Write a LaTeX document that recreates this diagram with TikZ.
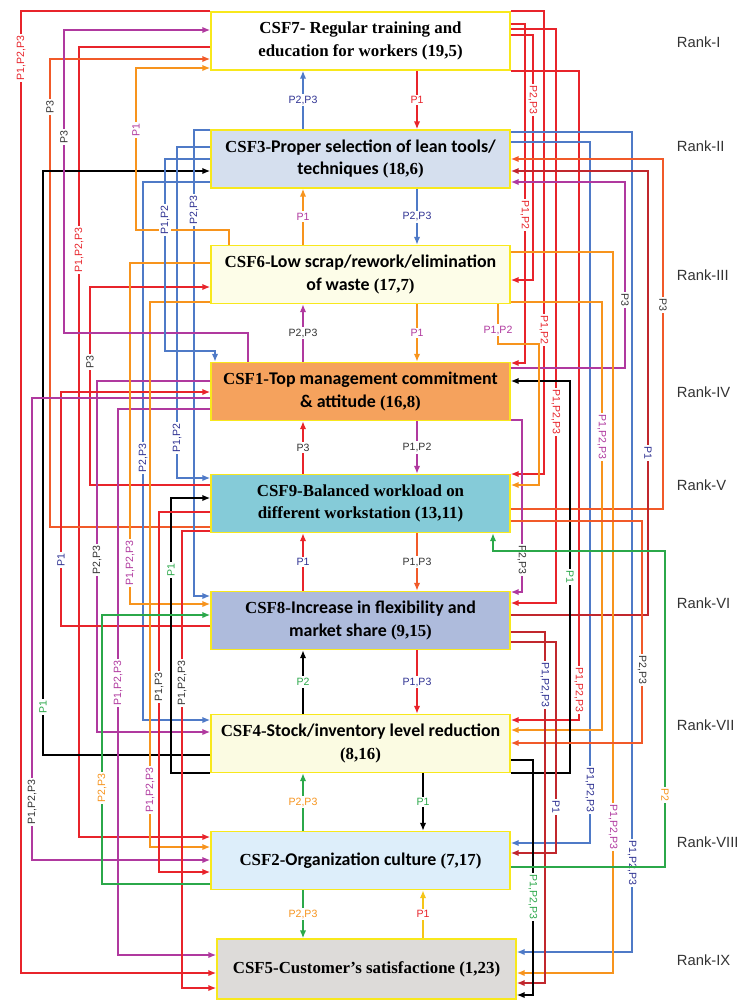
\documentclass[tikz,border=0pt]{standalone}
\usepackage{fontspec}
\setmainfont{Liberation Serif}
\setsansfont{Liberation Sans}
\newfontfamily\calfont{Carlito}[Scale=1.06]
\usetikzlibrary{arrows.meta}

\definecolor{cred}{HTML}{E8242B}
\definecolor{cdred}{HTML}{C1272D}
\definecolor{cored}{HTML}{F15A29}
\definecolor{corange}{HTML}{F7941D}
\definecolor{cmag}{HTML}{B0399F}
\definecolor{cblue}{HTML}{4F7AC7}
\definecolor{cnavy}{HTML}{2E3192}
\definecolor{cgreen}{HTML}{2BA84A}
\definecolor{cdark}{HTML}{333333}
\definecolor{cyel}{HTML}{F5C518}
\definecolor{cborder}{HTML}{F8E81C}
\definecolor{fillthree}{HTML}{D5DFEE}
\definecolor{fillsix}{HTML}{FDFDE8}
\definecolor{fillone}{HTML}{F5A25D}
\definecolor{fillnine}{HTML}{85CBD8}
\definecolor{filleight}{HTML}{AEBBDC}
\definecolor{fillfour}{HTML}{FBFBE2}
\definecolor{filltwo}{HTML}{DDEEFA}
\definecolor{fillfive}{HTML}{DDDBD9}

\tikzset{
  csfbox/.style={draw=cborder, line width=1.2pt, minimum width=7.475cm,
    minimum height=1.45cm, align=center, inner sep=2pt,
    font=\bfseries\fontsize{12}{16}\selectfont},
  link/.style={line width=0.9pt, -{Latex[length=5.5pt,width=4.5pt]}},
  plbl/.style={font=\sffamily\fontsize{7.5}{8}\selectfont, fill=white, inner sep=1.3pt},
  ranklbl/.style={font=\sffamily\fontsize{10.5}{13}\selectfont, text=cdark, anchor=west},
}

\begin{document}
\begin{tikzpicture}[x=0.025cm,y=-0.025cm]
  \useasboundingbox (0,0) rectangle (741,1000);
  % Boxes
  \node[csfbox,fill=white] (csf7) at (360.5,41) {CSF7- Regular training and\\education for workers (19,5)};
  \node[csfbox,fill=fillthree] (csf3) at (360.5,159) {CSF3-{\calfont Proper selection of lean tools/}\\{\calfont techniques} (18,6)};
  \node[csfbox,fill=fillsix] (csf6) at (360.5,274.5) {CSF6-{\calfont Low scrap/rework/elimination}\\{\calfont of waste} (17,7)};
  \node[csfbox,fill=fillone] (csf1) at (360.5,391.5) {CSF1-{\calfont Top management commitment}\\{\calfont \& attitude} (16,8)};
  \node[csfbox,fill=fillnine] (csf9) at (360.5,503.5) {CSF9-Balanced workload on\\different workstation (13,11)};
  \node[csfbox,fill=filleight] (csf8) at (360.5,620.5) {CSF8-{\calfont Increase in flexibility and}\\{\calfont market share} (9,15)};
  \node[csfbox,fill=fillfour] (csf4) at (360.5,743.5) {CSF4-{\calfont Stock/inventory level reduction}\\(8,16)};
  \node[csfbox,fill=filltwo] (csf2) at (360.5,860.5) {CSF2-{\calfont Organization culture} (7,17)};
  \node[csfbox,fill=fillfive,minimum height=1.5cm] (csf5) at (366.5,969) {CSF5-Customer’s satisfactione (1,23)};

  % Ranks
  \foreach \r/\y in {I/42,II/146,III/275,IV/392,V/485,VI/603,VII/725,VIII/842,IX/960}
    \node[ranklbl] (rank\r) at (672,\y) {Rank-\r};

  % Middle arrows, upwards
  \foreach \a/\b/\x/\col/\lcol/\lab in {csf3/csf7/303/cblue/cnavy/{P2,P3}, csf6/csf3/303/corange/cmag/P1,
      csf1/csf6/303/cmag/cdark/{P2,P3}, csf9/csf1/303/cred/cdark/P3, csf8/csf9/303/cred/cnavy/P1,
      csf4/csf8/303/black/cgreen/P2, csf2/csf4/303/cgreen/corange/{P2,P3}, csf5/csf2/423/cyel/cred/P1}
    \draw[link,\col] (\a.north -| \x,0) -- node[plbl,text=\lcol] {\lab} (\b.south -| \x,0);
  % Middle arrows, downwards
  \foreach \a/\b/\x/\col/\lcol/\lab in {csf7/csf3/417/cred/cred/P1, csf3/csf6/417/cblue/cnavy/{P2,P3},
      csf6/csf1/417/corange/cmag/P1, csf1/csf9/417/cmag/cdark/{P1,P2}, csf9/csf8/417/cored/cdark/{P1,P3},
      csf8/csf4/417/cred/cnavy/{P1,P3}, csf4/csf2/423/black/cgreen/P1, csf2/csf5/303/cgreen/corange/{P2,P3}}
    \draw[link,\col] (\a.south -| \x,0) -- node[plbl,text=\lcol] {\lab} (\b.north -| \x,0);

  % Left side links
  \foreach \s/\ys/\x/\t/\yt/\col/\ly/\lcol/\lab in {
      csf7/11/21/csf5/973/cred/58/cred/{P1,P2,P3},
      csf7/47/79/csf2/837/cred/250/cred/{P1,P2,P3},
      csf9/527/50/csf7/59/cored/107/cdark/P3,
      csf4/755/43/csf3/171/black/707/cgreen/P1,
      csf3/130/194/csf8/596/cblue/210/cnavy/{P2,P3},
      csf3/147/177/csf9/478/cblue/438/cnavy/{P1,P2},
      csf3/182/143/csf4/720/cblue/458/cnavy/{P2,P3},
      csf9/485/90/csf6/287/cred/362/cdark/P3,
      csf1/381/97/csf4/732/cmag/560/cdark/{P2,P3},
      csf8/626/61/csf1/392/cred/560/cnavy/P1,
      csf1/398/32/csf2/860/cmag/802/cdark/{P1,P2,P3},
      csf1/409/118/csf5/955/cmag/683/cmag/{P1,P2,P3},
      csf6/263/130/csf8/604/corange/563/cmag/{P1,P2,P3},
      csf6/302/150/csf2/847/corange/790/cmag/{P1,P2,P3},
      csf4/773/171/csf9/498/black/570/cgreen/P1,
      csf9/512/159/csf2/872/cred/687/cdark/{P1,P3},
      csf9/531/182/csf5/988/cred/683/cdark/{P1,P2,P3},
      csf2/884/102/csf8/615/cgreen/788/corange/{P2,P3}}{
    \draw[link,\col] (\s.west |- 0,\ys) -| (\x,\yt) -- (\t.west |- 0,\yt);
    \node[plbl,text=\lcol,rotate=90] at (\x,\ly) {\lab};
  }
  \draw[link,cmag] (csf1.north -| 248,0) |- (64,333) |- (csf7.west |- 0,30);
  \node[plbl,text=cdark,rotate=90] at (64,137) {P3};
  \draw[link,corange] (csf6.north -| 229,0) |- (136,230) |- (csf7.west |- 0,68);
  \node[plbl,text=cmag,rotate=90] at (136,130) {P1};
  \draw[link,cblue] (csf3.west |- 0,159) -| (165,351) -| (csf1.north -| 215,0);
  \node[plbl,text=cnavy,rotate=90] at (165,220) {P1,P2};

  % Right side links
  \foreach \s/\ys/\x/\t/\yt/\col/\ly/\lcol/\lab in {
      csf7/11/544/csf9/474/cred/330/cred/{P1,P2},
      csf7/24/525/csf1/363/cred/215/cred/{P1,P2},
      csf7/29/556/csf8/603/cred/412/cred/{P1,P2,P3},
      csf7/35/533/csf6/280/cred/100/cred/{P2,P3},
      csf7/71/579/csf4/720/cred/690/cred/{P1,P2,P3},
      csf3/132/632/csf5/952/cblue/863/cnavy/{P1,P2,P3},
      csf3/142/590/csf2/843/cblue/790/cnavy/{P1,P2,P3},
      csf9/509/663/csf3/159/cored/305/cdark/P3,
      csf8/615/648/csf3/171/cdred/453/cnavy/P1,
      csf1/368/625/csf3/182/cmag/300/cdark/P3,
      csf6/252/613/csf5/973/corange/827/cmag/{P1,P2,P3},
      csf6/302/602/csf4/730/corange/437/cmag/{P1,P2,P3},
      csf4/773/570/csf1/381/black/577/cgreen/P1,
      csf1/420/522/csf8/592/cmag/560/cdark/{P2,P3},
      csf9/521/642/csf4/743/cored/670/cdark/{P2,P3},
      csf8/632/545/csf5/983/cdred/685/cnavy/{P1,P2,P3},
      csf8/642/556/csf2/853/cdred/807/cnavy/P1,
      csf4/760/533/csf5/995/black/897/cgreen/{P1,P2,P3}}{
    \draw[link,\col] (\s.east |- 0,\ys) -| (\x,\yt) -- (\t.east |- 0,\yt);
    \node[plbl,text=\lcol,rotate=-90] at (\x,\ly) {\lab};
  }
  \draw[link,cgreen] (csf2.east |- 0,867) -| (665,551) -| (csf9.south -| 493,0);
  \node[plbl,text=corange,rotate=-90] at (665,795) {P2};
  \draw[link,corange] (csf6.south -| 498,0) |- (539,344) |- (csf9.east |- 0,485);
  \node[plbl,text=cmag] at (498,330) {P1,P2};
\end{tikzpicture}
\end{document}
